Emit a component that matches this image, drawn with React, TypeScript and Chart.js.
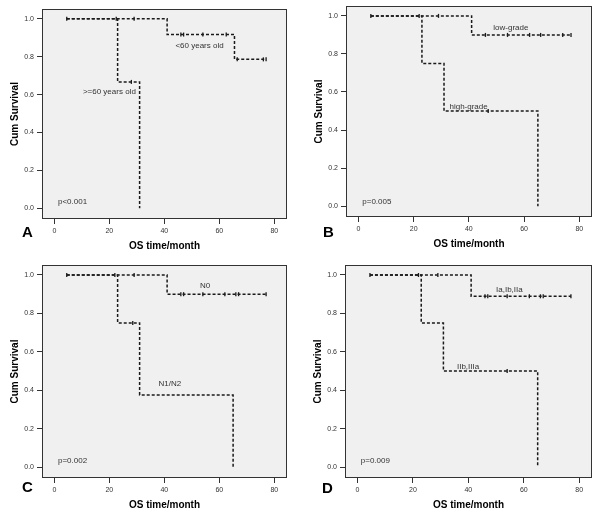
import React, { useEffect, useRef } from "react";
import { Chart, registerables } from "chart.js";

Chart.register(...registerables);

const FONT = "'Liberation Sans', Arial, sans-serif";

// Axis ticks
const xTicks = [0, 20, 40, 60, 80];
const yTicks = [0, 0.2, 0.4, 0.6, 0.8, 1.0];

// Panel A: age
const A_young_t = [4.5, 41, 65.5, 77];
const A_young_s = [1, 0.917, 0.786, 0.786];
const A_young_cens = [4.5, 22.5, 29, 46, 47, 54, 62.5, 66.5, 76, 77];
const A_old_t = [4.5, 23, 31];
const A_old_s = [1, 0.667, 0];
const A_old_cens = [28];

// Panel B: grade
const B_low_t = [4.5, 41, 77];
const B_low_s = [1, 0.9, 0.9];
const B_low_cens = [4.5, 22, 29, 46, 54, 62, 66, 74, 77];
const B_high_t = [4.5, 23, 31, 65];
const B_high_s = [1, 0.75, 0.5, 0];
const B_high_cens = [47];

// Panel C: N stage
const C_n0_t = [4.5, 41, 77];
const C_n0_s = [1, 0.9, 0.9];
const C_n0_cens = [4.5, 22, 29, 46, 47, 54, 62, 66, 67, 77];
const C_n12_t = [4.5, 23, 31, 65];
const C_n12_s = [1, 0.75, 0.375, 0];
const C_n12_cens = [28.5];

// Panel D: stage
const D_early_t = [4.5, 41, 77];
const D_early_s = [1, 0.889, 0.889];
const D_early_cens = [4.5, 22, 29, 46, 47, 54, 62, 66, 67, 77];
const D_late_t = [4.5, 23, 31, 65];
const D_late_s = [1, 0.75, 0.5, 0];
const D_late_cens = [54];

type Curve = { t: number[]; s: number[]; cens: number[] };
type Note = { text: string; x: number; y: number; align: CanvasTextAlign };
type Panel = {
  letter: string;
  curves: Curve[];
  notes: Note[];
  frame: { l: number; t: number; r: number; b: number };
  letterOff: { dx: number; dy: number };
};

const LM = 42; // left margin of canvas (y axis area)
const TM = 10; // top margin
const RM = 8; // right margin
const BM = 42; // bottom margin (x axis area)

const panels: Panel[] = [
  {
    letter: "A",
    curves: [
      { t: A_young_t, s: A_young_s, cens: A_young_cens },
      { t: A_old_t, s: A_old_s, cens: A_old_cens },
    ],
    notes: [
      { text: "<60 years old", x: 52.8, y: 0.856, align: "center" },
      { text: ">=60 years old", x: 20.0, y: 0.614, align: "center" },
      { text: "p<0.001", x: 1.3, y: 0.032, align: "left" },
    ],
    frame: { l: 42, t: 9, r: 287, b: 219 },
    letterOff: { dx: -20, dy: 18 },
  },
  {
    letter: "B",
    curves: [
      { t: B_low_t, s: B_low_s, cens: B_low_cens },
      { t: B_high_t, s: B_high_s, cens: B_high_cens },
    ],
    notes: [
      { text: "low-grade", x: 55.2, y: 0.935, align: "center" },
      { text: "high-grade", x: 39.9, y: 0.521, align: "center" },
      { text: "p=0.005", x: 1.4, y: 0.025, align: "left" },
    ],
    frame: { l: 346, t: 6, r: 592, b: 217 },
    letterOff: { dx: -23, dy: 20 },
  },
  {
    letter: "C",
    curves: [
      { t: C_n0_t, s: C_n0_s, cens: C_n0_cens },
      { t: C_n12_t, s: C_n12_s, cens: C_n12_cens },
    ],
    notes: [
      { text: "N0", x: 54.8, y: 0.946, align: "center" },
      { text: "N1/N2", x: 42.0, y: 0.436, align: "center" },
      { text: "p=0.002", x: 1.3, y: 0.032, align: "left" },
    ],
    frame: { l: 42, t: 265, r: 287, b: 478 },
    letterOff: { dx: -20, dy: 14 },
  },
  {
    letter: "D",
    curves: [
      { t: D_early_t, s: D_early_s, cens: D_early_cens },
      { t: D_late_t, s: D_late_s, cens: D_late_cens },
    ],
    notes: [
      { text: "Ia,Ib,IIa", x: 54.8, y: 0.921, align: "center" },
      { text: "IIb,IIIa", x: 39.9, y: 0.524, align: "center" },
      { text: "p=0.009", x: 1.2, y: 0.033, align: "left" },
    ],
    frame: { l: 345, t: 265, r: 592, b: 478 },
    letterOff: { dx: -23, dy: 15 },
  },
];

function survAt(c: Curve, t: number): number {
  let v = c.s[0];
  for (let i = 0; i < c.t.length; i++) {
    if (c.t[i] <= t) v = c.s[i];
  }
  return v;
}

function KMChart({ panel }: { panel: Panel }) {
  const ref = useRef<HTMLCanvasElement | null>(null);
  const { frame } = panel;
  const W = frame.r - frame.l + LM + RM;
  const H = frame.b - frame.t + TM + BM;

  useEffect(() => {
    if (!ref.current) return;
    const datasets: any[] = [];
    panel.curves.forEach((c) => {
      datasets.push({
        data: c.t.map((t, i) => ({ x: t, y: c.s[i] })),
        showLine: true,
        stepped: "before",
        borderColor: "#1a1a1a",
        borderWidth: 1.5,
        borderDash: [3, 2],
        pointRadius: 0,
        fill: false,
      });
      datasets.push({
        data: c.cens.map((t) => ({ x: t, y: survAt(c, t) })),
        showLine: false,
        pointStyle: "line",
        rotation: 90,
        pointRadius: 2,
        borderColor: "#1a1a1a",
        backgroundColor: "#1a1a1a",
        pointBorderWidth: 1.3,
      });
    });

    const framePlugin = {
      id: "kmFrame",
      beforeDraw(chart: any) {
        const { ctx, chartArea: a } = chart;
        ctx.save();
        ctx.fillStyle = "#f0f0f0";
        ctx.fillRect(a.left, a.top, a.right - a.left, a.bottom - a.top);
        ctx.restore();
      },
      afterDraw(chart: any) {
        const { ctx, chartArea: a, scales } = chart;
        ctx.save();
        ctx.strokeStyle = "#333";
        ctx.lineWidth = 1;
        ctx.strokeRect(
          Math.round(a.left) + 0.5,
          Math.round(a.top) + 0.5,
          Math.round(a.right - a.left) - 1,
          Math.round(a.bottom - a.top) - 1
        );
        ctx.fillStyle = "#333";
        ctx.font = `8px ${FONT}`;
        ctx.textBaseline = "middle";
        panel.notes.forEach((n) => {
          ctx.textAlign = n.align;
          ctx.fillText(n.text, scales.x.getPixelForValue(n.x), scales.y.getPixelForValue(n.y));
        });
        ctx.fillStyle = "#000";
        ctx.font = `bold 15px ${FONT}`;
        ctx.textAlign = "left";
        ctx.textBaseline = "alphabetic";
        ctx.fillText(panel.letter, a.left + panel.letterOff.dx, a.bottom + panel.letterOff.dy);
        ctx.restore();
      },
    };

    const chart = new Chart(ref.current, {
      type: "scatter",
      data: { datasets },
      options: {
        animation: false,
        responsive: false,
        maintainAspectRatio: false,
        events: [],
        layout: { padding: { top: TM, right: RM, left: 0, bottom: 0 } },
        plugins: { legend: { display: false }, tooltip: { enabled: false } },
        scales: {
          x: {
            type: "linear",
            min: -4.5,
            max: 84.6,
            afterBuildTicks: (s: any) => {
              s.ticks = xTicks.map((v) => ({ value: v }));
            },
            afterFit: (s: any) => {
              s.height = BM;
            },
            grid: { drawOnChartArea: false, drawTicks: true, tickLength: 5, color: "#333", tickColor: "#333" },
            border: { display: false },
            ticks: {
              font: { family: FONT, size: 7 },
              color: "#333",
              padding: 3,
              maxRotation: 0,
              autoSkip: false,
              callback: (v: any) => String(v),
            },
            title: {
              display: true,
              text: "OS time/month",
              color: "#000",
              font: { family: FONT, size: 10, weight: "bold" },
              padding: { top: 0, bottom: 9 },
            },
          },
          y: {
            type: "linear",
            min: -0.057,
            max: 1.052,
            afterBuildTicks: (s: any) => {
              s.ticks = yTicks.map((v) => ({ value: v }));
            },
            afterFit: (s: any) => {
              s.width = LM;
            },
            grid: { drawOnChartArea: false, drawTicks: true, tickLength: 5, color: "#333", tickColor: "#333" },
            border: { display: false },
            ticks: {
              font: { family: FONT, size: 7 },
              color: "#333",
              padding: 3,
              autoSkip: false,
              callback: (v: any) => Number(v).toFixed(1),
            },
            title: {
              display: true,
              text: "Cum Survival",
              color: "#000",
              font: { family: FONT, size: 10, weight: "bold" },
              padding: { top: 9.5, bottom: 0 },
            },
          },
        },
      } as any,
      plugins: [framePlugin],
    });
    return () => chart.destroy();
  }, [panel]);

  return (
    <canvas
      ref={ref}
      width={W}
      height={H}
      style={{
        position: "absolute",
        left: frame.l - LM,
        top: frame.t - TM,
        width: W,
        height: H,
      }}
    />
  );
}

export default function App() {
  return (
    <div
      style={{
        position: "absolute",
        left: 0,
        top: 0,
        width: 600,
        height: 518,
        background: "#fff",
        overflow: "hidden",
      }}
    >
      {panels.map((p) => (
        <KMChart key={p.letter} panel={p} />
      ))}
    </div>
  );
}
